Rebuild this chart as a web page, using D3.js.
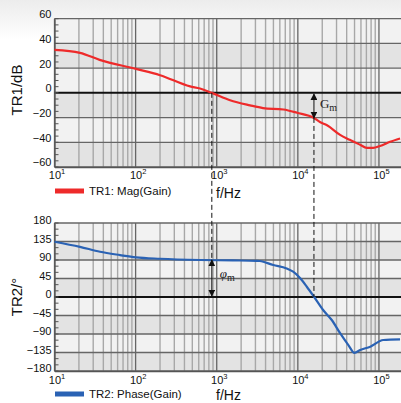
<!DOCTYPE html>
<html>
<head>
<meta charset="utf-8">
<script src="https://cdn.jsdelivr.net/npm/d3@7"></script>
<style>
  html, body { margin: 0; padding: 0; background: #fff; }
  svg { display: block; font-family: 'Liberation Sans', Arial, sans-serif; }
</style>
</head>
<body>
<div class="bode"></div>
<script>
// magnitude trace (TR1)
const magFreq = [10, 20.6, 36, 101, 200, 470, 622, 870, 1460, 2570, 3720, 6650, 9770, 15800, 18700, 22900, 33200, 43600, 58600, 70800, 85000, 103000, 137000, 182000];
const magDb = [34.8, 32.4, 26.7, 19.4, 14.3, 5.2, 3.5, 0, -6, -10.1, -12.3, -13.5, -16.1, -20.3, -23.6, -26.2, -34, -38, -42, -44.5, -44.5, -43, -39.6, -36.9];

// phase trace (TR2)
const phaseFreq = [10, 20.6, 36.4, 64.3, 101, 200, 622, 1590, 3090, 3390, 4980, 7280, 8760, 10700, 12900, 15900, 20500, 26200, 33200, 42000, 49900, 58600, 78200, 113000, 182000];
const phaseDeg = [134.5, 122, 110, 102, 96.5, 93, 90, 89, 88, 87.6, 77.8, 69.6, 61.5, 45.4, 25, 0, -31.6, -56, -88, -117, -135.8, -129, -121, -104.6, -103];

const magTicks = [60, 40, 20, 0, -20, -40, -60];
const phaseTicks = [180, 135, 90, 45, 0, -45, -90, -135, -180];
const decadeTicks = [10, 100, 1000, 10000, 100000];

// crossover frequencies used for the margin markers
const gainCross = 870;
const phaseCross = 15800;

const width = 401;
const height = 403;

const svg = d3.select('.bode').append('svg')
  .attr('width', width)
  .attr('height', height);

const defs = svg.append('defs');
const grad = defs.append('linearGradient').attr('id', 'topfade')
  .attr('x1', 0).attr('y1', 0).attr('x2', 0).attr('y2', 1);
grad.append('stop').attr('offset', '0%').attr('stop-color', '#ececec');
grad.append('stop').attr('offset', '100%').attr('stop-color', '#ffffff');
svg.append('rect').attr('width', width).attr('height', 40).attr('fill', 'url(#topfade)');

defs.append('marker')
  .attr('id', 'arrow')
  .attr('viewBox', '0 0 10 10')
  .attr('refX', 9).attr('refY', 5)
  .attr('markerWidth', 7).attr('markerHeight', 7)
  .attr('markerUnits', 'userSpaceOnUse')
  .attr('orient', 'auto-start-reverse')
  .append('path')
  .attr('d', 'M0,0 L10,5 L0,10 z')
  .attr('fill', '#111');

const xScale = d3.scaleLog().domain([10, 1.87e5]).range([54.5, 401]);
const magScale = d3.scaleLinear().domain([-60, 60]).range([167, 18.7]);
const phaseScale = d3.scaleLinear().domain([-180, 180]).range([371, 223]);

const gridFreqs = [];
for (let k = 1; k <= 5; k++) {
  for (let m = 1; m <= 9; m++) {
    const f = m * Math.pow(10, k);
    if (f <= xScale.domain()[1]) gridFreqs.push({ f, major: m === 1 });
  }
}

function panel(yScale, ticks, minorStep, labelDy, axisLabelY, title, titleY) {
  const g = svg.append('g');
  const [x0, x1] = xScale.range();

  // alternating bands
  g.selectAll('rect.band')
    .data(d3.pairs(ticks))
    .enter()
    .append('rect')
    .attr('x', x0)
    .attr('width', x1 - x0)
    .attr('y', d => yScale(d[0]))
    .attr('height', d => yScale(d[1]) - yScale(d[0]))
    .attr('fill', (d, i) => (i % 2 === 0 ? '#f2f2f2' : '#e3e3e3'));

  // vertical grid
  g.selectAll('line.vgrid')
    .data(gridFreqs)
    .enter()
    .append('line')
    .attr('x1', d => xScale(d.f))
    .attr('x2', d => xScale(d.f))
    .attr('y1', yScale.range()[1])
    .attr('y2', yScale.range()[0])
    .attr('stroke', d => (d.major ? '#666' : '#a8a8a8'))
    .attr('stroke-width', d => (d.major ? 1.3 : 1.4));

  // horizontal grid
  g.selectAll('line.hgrid')
    .data(ticks)
    .enter()
    .append('line')
    .attr('x1', x0)
    .attr('x2', x1)
    .attr('y1', d => yScale(d))
    .attr('y2', d => yScale(d))
    .attr('stroke', d => (d === 0 ? '#111' : '#666'))
    .attr('stroke-width', d => (d === 0 ? 2 : 1.3));

  // minor ticks on the left edge
  const lo = yScale.domain()[0];
  const hi = yScale.domain()[1];
  g.selectAll('line.minor')
    .data(d3.range(lo, hi + 0.1, minorStep))
    .enter()
    .append('line')
    .attr('x1', x0)
    .attr('x2', x0 + 4)
    .attr('y1', d => yScale(d))
    .attr('y2', d => yScale(d))
    .attr('stroke', '#555')
    .attr('stroke-width', 1);

  // y axis
  const yAxis = g.append('g')
    .attr('transform', `translate(${x0},0)`)
    .call(d3.axisLeft(yScale).tickValues(ticks).tickSize(0).tickPadding(3));
  yAxis.select('.domain').attr('stroke', '#555').attr('stroke-width', 1.3);
  yAxis.selectAll('text')
    .attr('font-size', 11)
    .attr('fill', '#111')
    .attr('font-family', "'Liberation Sans', Arial, sans-serif")
    .attr('dy', labelDy);

  // x axis
  const xAxis = g.append('g')
    .attr('transform', `translate(0,${yScale.range()[0]})`)
    .call(d3.axisBottom(xScale).tickValues(decadeTicks).tickSize(0).tickPadding(0).tickFormat(''));
  xAxis.select('.domain').attr('stroke', '#555').attr('stroke-width', 1.3);
  xAxis.selectAll('text').remove();
  xAxis.selectAll('.tick')
    .append('text')
    .attr('y', axisLabelY)
    .attr('x', 2)
    .attr('text-anchor', 'middle')
    .attr('font-size', 11)
    .attr('fill', '#111')
    .attr('font-family', "'Liberation Sans', Arial, sans-serif")
    .text('10')
    .append('tspan')
    .attr('dy', -5)
    .attr('font-size', 7.5)
    .text(d => Math.round(Math.log10(d)));

  svg.append('text')
    .attr('transform', `translate(22,${titleY}) rotate(-90)`)
    .attr('text-anchor', 'middle')
    .attr('font-size', 15)
    .attr('fill', '#111')
    .text(title);

  return g;
}

panel(magScale, magTicks, 5, '-0.1em', 12, 'TR1/dB', 90);
panel(phaseScale, phaseTicks, 15, '0.05em', 13, 'TR2/°', 297);

// curves
const magLine = d3.line()
  .x((d, i) => xScale(magFreq[i]))
  .y(d => magScale(d))
  .curve(d3.curveMonotoneX);
svg.append('path')
  .attr('d', magLine(magDb))
  .attr('fill', 'none')
  .attr('stroke', '#ee2a2a')
  .attr('stroke-width', 2.2);

const phaseLine = d3.line()
  .x((d, i) => xScale(phaseFreq[i]))
  .y(d => phaseScale(d))
  .curve(d3.curveMonotoneX);
svg.append('path')
  .attr('d', phaseLine(phaseDeg))
  .attr('fill', 'none')
  .attr('stroke', '#2a62b4')
  .attr('stroke-width', 2.2);

// margin markers
const gx = xScale(gainCross);
const px = xScale(phaseCross);
const gmDb = -20.3;
const pmDeg = 90;

svg.append('line')
  .attr('x1', gx).attr('x2', gx)
  .attr('y1', magScale(0)).attr('y2', phaseScale(pmDeg))
  .attr('stroke', '#111').attr('stroke-width', 1).attr('stroke-dasharray', '5,3');
svg.append('line')
  .attr('x1', px).attr('x2', px)
  .attr('y1', magScale(gmDb)).attr('y2', phaseScale(0))
  .attr('stroke', '#111').attr('stroke-width', 1).attr('stroke-dasharray', '5,3');

svg.append('line')
  .attr('x1', px).attr('x2', px)
  .attr('y1', magScale(0) + 1).attr('y2', magScale(gmDb))
  .attr('stroke', '#111').attr('stroke-width', 1)
  .attr('marker-start', 'url(#arrow)').attr('marker-end', 'url(#arrow)');
svg.append('line')
  .attr('x1', gx).attr('x2', gx)
  .attr('y1', phaseScale(pmDeg)).attr('y2', phaseScale(0) - 1)
  .attr('stroke', '#111').attr('stroke-width', 1)
  .attr('marker-start', 'url(#arrow)').attr('marker-end', 'url(#arrow)');

const gm = svg.append('text')
  .attr('x', px + 6).attr('y', magScale(-10) + 3)
  .attr('font-family', "'Liberation Serif', 'DejaVu Serif', serif")
  .attr('font-size', 13)
  .attr('fill', '#222')
  .text('G');
gm.append('tspan').attr('dy', 3).attr('font-size', 10).text('m');

const pm = svg.append('text')
  .attr('x', gx + 8).attr('y', phaseScale(45) - 1)
  .attr('font-family', "'Liberation Serif', 'DejaVu Serif', serif")
  .attr('font-size', 13)
  .attr('font-style', 'italic')
  .attr('fill', '#222')
  .text('φ');
pm.append('tspan').attr('dy', 3).attr('font-size', 10).attr('font-style', 'normal').text('m');

// frequency labels
[198, 400].forEach(y => {
  svg.append('text')
    .attr('x', 216).attr('y', y)
    .attr('font-size', 14)
    .attr('fill', '#111')
    .text('f/Hz');
});

// legends
const legends = [
  { label: 'TR1: Mag(Gain)', color: '#ee2a2a', y: 191 },
  { label: 'TR2: Phase(Gain)', color: '#2a62b4', y: 394 },
];
legends.forEach(l => {
  svg.append('rect')
    .attr('x', 55).attr('y', l.y - 2.5)
    .attr('width', 29).attr('height', 5)
    .attr('fill', l.color);
  svg.append('text')
    .attr('x', 89).attr('y', l.y + 4)
    .attr('font-size', 11.5)
    .attr('fill', '#111')
    .text(l.label);
});
</script>
</body>
</html>
